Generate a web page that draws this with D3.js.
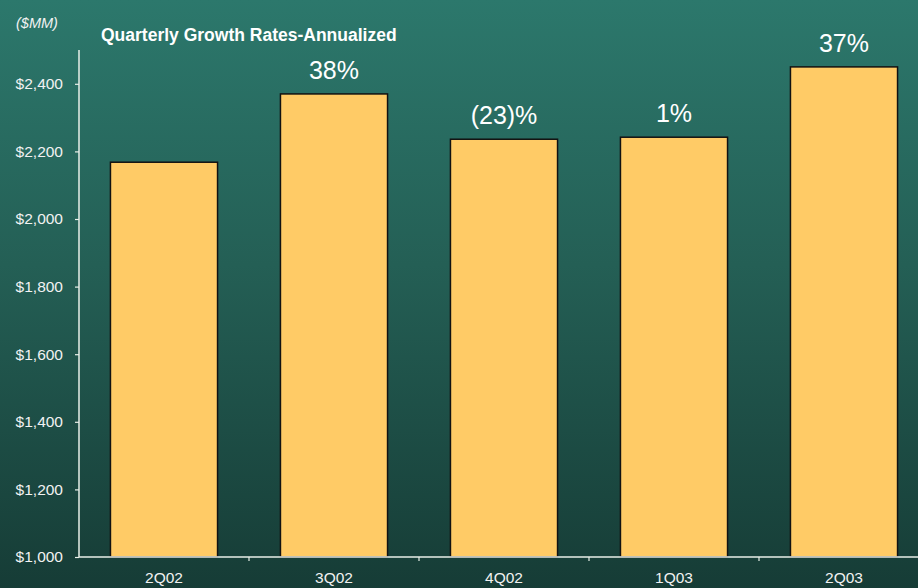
<!DOCTYPE html>
<html>
<head>
<meta charset="utf-8">
<script src="https://cdn.jsdelivr.net/npm/d3@7"></script>
<style>
  html, body { margin: 0; padding: 0; background: #1b4a42; }
  svg { display: block; font-family: "Liberation Sans", Arial, sans-serif; }
</style>
</head>
<body>
<svg id="chart" width="918" height="588"></svg>
<script>
// Quarterly revenue ($MM) with annualized quarter-over-quarter growth labels
const quarters = ["2Q02", "3Q02", "4Q02", "1Q03", "2Q03"];
const revenue = [2168, 2370, 2236, 2242, 2450];
const growthLabels = ["", "38%", "(23)%", "1%", "37%"];
const yTicks = [1000, 1200, 1400, 1600, 1800, 2000, 2200, 2400];

const W = 918, H = 588;
const svg = d3.select("#chart");

// Background gradient: teal at the top fading to dark green at the bottom
const defs = svg.append("defs");
const grad = defs.append("linearGradient")
  .attr("id", "bg").attr("x1", 0).attr("y1", 0).attr("x2", 0).attr("y2", 1);
grad.append("stop").attr("offset", "0%").attr("stop-color", "#2c786c");
grad.append("stop").attr("offset", "45%").attr("stop-color", "#245f55");
grad.append("stop").attr("offset", "100%").attr("stop-color", "#163c36");
svg.append("rect").attr("width", W).attr("height", H).attr("fill", "url(#bg)");

const plot = { left: 79, top: 50, bottom: 557 };

const x = d3.scaleBand()
  .domain(quarters)
  .range([plot.left, plot.left + 170 * quarters.length])
  .paddingInner(0.37)
  .paddingOuter(0.185);

const y = d3.scaleLinear()
  .domain([1000, 2500])
  .range([plot.bottom, plot.top]);

// Bars
svg.append("g").selectAll("rect")
  .data(quarters)
  .join("rect")
  .attr("x", d => x(d))
  .attr("y", (d, i) => y(revenue[i]))
  .attr("width", x.bandwidth())
  .attr("height", (d, i) => y(1000) - y(revenue[i]))
  .attr("fill", "#ffcb66")
  .attr("stroke", "#111")
  .attr("stroke-width", 1.5);

// Growth-rate labels above the bars
svg.append("g").selectAll("text")
  .data(quarters)
  .join("text")
  .attr("x", d => x(d) + x.bandwidth() / 2)
  .attr("y", (d, i) => y(revenue[i]) - 15)
  .attr("text-anchor", "middle")
  .attr("fill", "#ffffff")
  .attr("font-size", 25)
  .text((d, i) => growthLabels[i]);

// Y axis
const yAxis = d3.axisLeft(y)
  .tickValues(yTicks)
  .tickSize(4)
  .tickPadding(12)
  .tickFormat(d => "$" + d3.format(",")(d));
const gy = svg.append("g")
  .attr("transform", `translate(${plot.left},0)`)
  .call(yAxis);
gy.select(".domain").attr("stroke", "#e8efe8").attr("stroke-width", 1.5)
  .attr("d", `M0,${plot.top}V${plot.bottom}`);
gy.selectAll(".tick line").attr("stroke", "#e8efe8").attr("stroke-width", 1.2);
gy.selectAll(".tick text").attr("fill", "#f2f2f2").attr("font-size", 15.5);

// X axis: ticks sit on the band boundaries
const bounds = quarters.slice(1).map(q => x(q) - x.step() * x.paddingInner() / 2);
const gx = svg.append("g").attr("transform", `translate(0,${plot.bottom})`);
gx.append("line")
  .attr("x1", plot.left).attr("x2", W + 10)
  .attr("stroke", "#e8efe8").attr("stroke-width", 1.5);
gx.selectAll(".xt")
  .data(bounds)
  .join("line")
  .attr("class", "xt")
  .attr("x1", d => d).attr("x2", d => d)
  .attr("y1", 0).attr("y2", 4)
  .attr("stroke", "#e8efe8").attr("stroke-width", 1.2);
gx.selectAll("text")
  .data(quarters)
  .join("text")
  .attr("x", d => x(d) + x.bandwidth() / 2)
  .attr("y", 26)
  .attr("text-anchor", "middle")
  .attr("fill", "#f2f2f2")
  .attr("font-size", 15.5)
  .text(d => d);

// Unit and title
svg.append("text")
  .attr("x", 16).attr("y", 28)
  .attr("fill", "#f2f2f2")
  .attr("font-size", 14.5)
  .attr("font-style", "italic")
  .text("($MM)");
svg.append("text")
  .attr("x", 101).attr("y", 41)
  .attr("fill", "#ffffff")
  .attr("font-size", 17.5)
  .attr("font-weight", "bold")
  .text("Quarterly Growth Rates-Annualized");
</script>
</body>
</html>
